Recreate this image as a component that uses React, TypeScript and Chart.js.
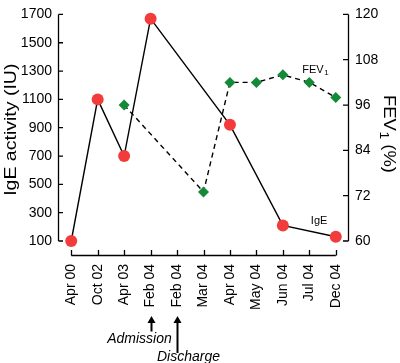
import { useEffect, useRef } from 'react';
import { Chart, registerables } from 'chart.js';

Chart.register(...registerables);

const categories = ['Apr 00', 'Oct 02', 'Apr 03', 'Feb 04', 'Feb 04', 'Mar 04', 'Apr 04', 'May 04', 'Jun 04', 'Jul 04', 'Dec 04'];
const igeValues: (number | null)[] = [100, 1100, 700, 1670, null, null, 920, null, 210, null, 130];
const fevValues: (number | null)[] = [null, null, 96, null, null, 73, 102, 102, 104, 102, 98];
const igeTicks = [100, 300, 500, 700, 900, 1100, 1300, 1500, 1700];
const fevTicks = [60, 72, 84, 96, 108, 120];
const admissionIndex = 3;
const dischargeIndex = 4;

const FONT = "'Liberation Sans', Arial, Helvetica, sans-serif";

function drawSub(ctx: CanvasRenderingContext2D, main: string, sub: string, rest: string, size: number, x: number, y: number, align: 'left' | 'center') {
  ctx.font = `${size}px ${FONT}`;
  const w1 = ctx.measureText(main).width;
  const w3 = ctx.measureText(rest).width;
  const subSize = Math.round(size * 0.72);
  ctx.font = `${subSize}px ${FONT}`;
  const w2 = ctx.measureText(sub).width;
  const total = w1 + w2 + w3;
  const sx = align === 'center' ? x - total / 2 : x;
  ctx.textAlign = 'left';
  ctx.textBaseline = 'alphabetic';
  ctx.font = `${size}px ${FONT}`;
  ctx.fillText(main, sx, y);
  ctx.font = `${subSize}px ${FONT}`;
  ctx.fillText(sub, sx + w1 + 0.5, y + size * 0.22);
  ctx.font = `${size}px ${FONT}`;
  ctx.fillText(rest, sx + w1 + w2 + 0.5, y);
}

const decorPlugin = {
  id: 'decor',
  afterDraw(chart: any) {
    const ctx: CanvasRenderingContext2D = chart.ctx;
    const ca = chart.chartArea;
    const xs = chart.scales.x;
    const ys = chart.scales.y;
    const y1 = chart.scales.y1;
    ctx.save();
    ctx.strokeStyle = '#000';
    ctx.fillStyle = '#000';
    ctx.lineWidth = 1.3;

    // left axis
    const lx = ca.left + 0.5;
    ctx.beginPath();
    ctx.moveTo(lx, ys.getPixelForValue(igeTicks[igeTicks.length - 1]));
    ctx.lineTo(lx, ys.getPixelForValue(igeTicks[0]));
    igeTicks.forEach((v) => {
      const py = ys.getPixelForValue(v);
      ctx.moveTo(lx, py);
      ctx.lineTo(lx + 4.5, py);
    });
    ctx.stroke();

    // right axis
    const rx = ca.right - 0.5;
    ctx.beginPath();
    ctx.moveTo(rx, y1.getPixelForValue(fevTicks[fevTicks.length - 1]));
    ctx.lineTo(rx, y1.getPixelForValue(fevTicks[0]));
    fevTicks.forEach((v) => {
      const py = y1.getPixelForValue(v);
      ctx.moveTo(rx, py);
      ctx.lineTo(rx - 5.5, py);
    });
    ctx.stroke();

    // bottom axis (offset)
    const ay = ca.bottom + 14.5;
    ctx.beginPath();
    ctx.moveTo(xs.getPixelForValue(0), ay);
    ctx.lineTo(xs.getPixelForValue(categories.length - 1), ay);
    categories.forEach((_, i) => {
      const px = Math.round(xs.getPixelForValue(i)) + 0.5;
      ctx.moveTo(px, ay);
      ctx.lineTo(px, ay - 5.5);
    });
    ctx.stroke();

    // axis titles
    ctx.save();
    ctx.translate(11.5, (ca.top + ca.bottom) / 2 + 2);
    ctx.rotate(-Math.PI / 2);
    ctx.scale(1.22, 1);
    ctx.font = `16px ${FONT}`;
    ctx.textAlign = 'center';
    ctx.textBaseline = 'middle';
    ctx.fillText('IgE activity (IU)', 0, 0);
    ctx.restore();

    ctx.save();
    ctx.translate(389, (ca.top + ca.bottom) / 2 + 6);
    ctx.rotate(Math.PI / 2);
    ctx.scale(1.15, 1);
    drawSub(ctx, 'FEV', '1', ' (%)', 16, 0, 5.5, 'center');
    ctx.restore();

    // series labels
    ctx.fillStyle = '#000';
    drawSub(ctx, 'FEV', '1', '', 11, xs.getPixelForValue(9) - 7, y1.getPixelForValue(102) - 9.5, 'left');
    ctx.font = `11px ${FONT}`;
    ctx.textAlign = 'left';
    ctx.textBaseline = 'alphabetic';
    ctx.fillText('IgE', xs.getPixelForValue(8) + 28, ys.getPixelForValue(210) - 1);

    // arrows
    const arrow = (px: number, tip: number, tail: number) => {
      ctx.beginPath();
      ctx.lineWidth = 2;
      ctx.moveTo(px, tip + 5);
      ctx.lineTo(px, tail);
      ctx.stroke();
      ctx.beginPath();
      ctx.moveTo(px, tip);
      ctx.lineTo(px - 4, tip + 7);
      ctx.lineTo(px + 4, tip + 7);
      ctx.closePath();
      ctx.fill();
    };
    const axA = Math.round(xs.getPixelForValue(admissionIndex)) + 0.5;
    const axD = Math.round(xs.getPixelForValue(dischargeIndex)) + 0.5;
    arrow(axA, 316, 331.5);
    arrow(axD, 316, 353);
    ctx.font = `italic 14px ${FONT}`;
    ctx.textAlign = 'center';
    ctx.textBaseline = 'alphabetic';
    ctx.fillText('Admission', axA - 12, 343);
    ctx.fillText('Discharge', axD + 11, 360.5);

    ctx.restore();
  },
};

export default function App() {
  const ref = useRef<HTMLCanvasElement | null>(null);
  useEffect(() => {
    if (!ref.current) return;
    const chart = new Chart(ref.current, {
      type: 'line',
      data: {
        labels: categories,
        datasets: [
          {
            label: 'FEV1',
            data: fevValues,
            yAxisID: 'y1',
            borderColor: '#000',
            borderWidth: 1.4,
            borderDash: [5, 4],
            spanGaps: true,
            clip: false,
            pointStyle: 'rectRot',
            pointRadius: 5.5,
            pointBackgroundColor: '#138a38',
            pointBorderColor: '#138a38',
            pointBorderWidth: 0,
            tension: 0,
          },
          {
            label: 'IgE',
            data: igeValues,
            yAxisID: 'y',
            borderColor: '#000',
            borderWidth: 1.4,
            spanGaps: true,
            clip: false,
            pointStyle: 'circle',
            pointRadius: 6,
            pointBackgroundColor: '#f23b3b',
            pointBorderColor: '#f23b3b',
            pointBorderWidth: 0,
            tension: 0,
          },
        ],
      },
      options: {
        responsive: false,
        animation: false,
        devicePixelRatio: 1,
        layout: { padding: { top: 8, left: 0, right: 0, bottom: 0 } },
        plugins: { legend: { display: false }, tooltip: { enabled: false } },
        scales: {
          x: {
            type: 'category',
            offset: true,
            grid: { display: false, drawTicks: false },
            border: { display: false },
            ticks: {
              autoSkip: false,
              minRotation: 90,
              maxRotation: 90,
              padding: 23,
              color: '#000',
              font: { family: FONT, size: 14 },
            },
            afterFit: (s: any) => { s.height = 122; },
          },
          y: {
            position: 'left',
            min: 100,
            max: 1700,
            grid: { display: false, drawTicks: false },
            border: { display: false },
            ticks: {
              stepSize: 200,
              padding: 6,
              color: '#000',
              font: { family: FONT, size: 14 },
              callback: (v: any) => String(v),
            },
            afterBuildTicks: (s: any) => { s.ticks = igeTicks.map((v) => ({ value: v })); },
            afterFit: (s: any) => { s.width = 58; },
          },
          y1: {
            position: 'right',
            min: 60,
            max: 120,
            grid: { display: false, drawTicks: false },
            border: { display: false },
            ticks: {
              stepSize: 12,
              padding: 6,
              color: '#000',
              font: { family: FONT, size: 14 },
              callback: (v: any) => String(v),
            },
            afterBuildTicks: (s: any) => { s.ticks = fevTicks.map((v) => ({ value: v })); },
            afterFit: (s: any) => { s.width = 51; },
          },
        },
      },
      plugins: [decorPlugin],
    });
    return () => chart.destroy();
  }, []);
  return (
    <div style={{ position: 'absolute', left: 0, top: 0, width: 400, height: 363 }}>
      <canvas ref={ref} width={400} height={363} />
    </div>
  );
}
